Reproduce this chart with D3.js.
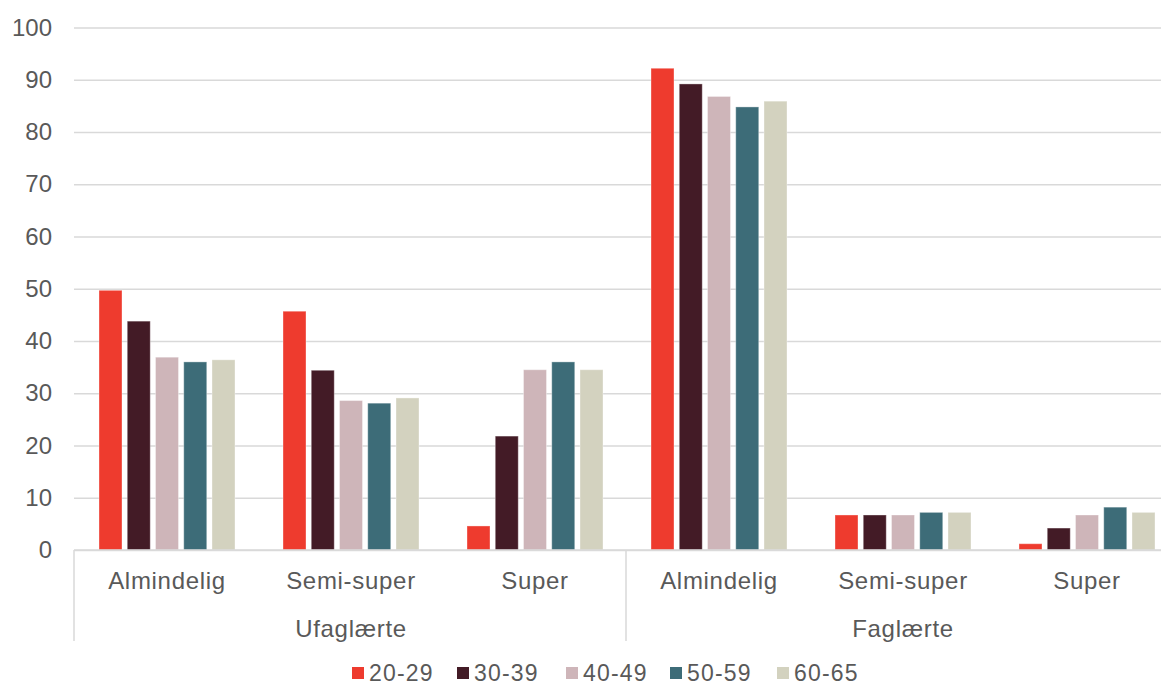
<!DOCTYPE html>
<html>
<head>
<meta charset="utf-8">
<script src="https://cdn.jsdelivr.net/npm/d3@7"></script>
<style>
  html, body { margin: 0; padding: 0; background: #fff; }
  svg { display: block; font-family: "Liberation Sans", Arial, sans-serif; }
</style>
</head>
<body>
<svg id="chart" width="1161" height="686"></svg>
<script>
// Education groups and job-type categories within each group
const groups = ["Ufaglærte", "Faglærte"];
const jobTypes = ["Almindelig", "Semi-super", "Super"];

// Age bands (series)
const ageBands = ["20-29", "30-39", "40-49", "50-59", "60-65"];
const ageColors = ["#EE3B2E", "#431B26", "#CEB5B9", "#3D6C78", "#D3D2BF"];

// Values per age band, in order: Ufaglærte (Almindelig, Semi-super, Super), Faglærte (Almindelig, Semi-super, Super)
const age20_29 = [49.7, 45.7, 4.6, 92.2, 6.7, 1.2];
const age30_39 = [43.8, 34.4, 21.8, 89.2, 6.7, 4.2];
const age40_49 = [36.9, 28.6, 34.5, 86.8, 6.7, 6.7];
const age50_59 = [36.0, 28.1, 36.0, 84.8, 7.2, 8.2];
const age60_65 = [36.4, 29.1, 34.5, 85.9, 7.2, 7.2];

const yTicks = [0, 10, 20, 30, 40, 50, 60, 70, 80, 90, 100];

const seriesValues = [age20_29, age30_39, age40_49, age50_59, age60_65];

// Flattened category list (group + job type)
const cats = [];
groups.forEach(g => jobTypes.forEach(j => cats.push({ key: g + "|" + j, group: g, job: j })));

const svg = d3.select("#chart");
const plotLeft = 75, bandW = 184;
const plotTop = 27.5, plotBottom = 550;
const textColor = "#595959";
const gridColor = "#d9d9d9";

const x0 = d3.scaleBand()
  .domain(cats.map(c => c.key))
  .range([plotLeft, plotLeft + bandW * cats.length])
  .paddingInner(0).paddingOuter(0);

const x1 = d3.scaleBand()
  .domain(ageBands)
  .range([24, bandW - 24])
  .paddingInner(0.186).paddingOuter(0);

const y = d3.scaleLinear().domain([0, 100]).range([plotBottom, plotTop]);

// Gridlines and y tick labels
const yAxis = d3.axisLeft(y)
  .tickValues(yTicks)
  .tickSize(-(1161 - plotLeft + 1))
  .tickPadding(22)
  .tickFormat(d3.format("d"));

const gAxis = svg.append("g")
  .attr("transform", `translate(${plotLeft - 1},0)`)
  .call(yAxis);
gAxis.select(".domain").remove();
gAxis.selectAll(".tick line").attr("stroke", gridColor).attr("stroke-width", 1.5);
gAxis.selectAll(".tick text")
  .attr("fill", textColor)
  .attr("font-size", 24)
  .attr("font-family", "Liberation Sans, Arial, sans-serif");

// Bars
const catG = svg.append("g").selectAll("g")
  .data(cats)
  .join("g")
  .attr("transform", d => `translate(${x0(d.key)},0)`);

catG.selectAll("rect")
  .data((d, i) => ageBands.map((a, s) => ({ age: a, s, v: seriesValues[s][i] })))
  .join("rect")
  .attr("x", d => x1(d.age))
  .attr("width", x1.bandwidth())
  .attr("y", d => y(d.v))
  .attr("height", d => y(0) - y(d.v))
  .attr("fill", d => ageColors[d.s])
  .attr("stroke", "#ffffff")
  .attr("stroke-opacity", 0.35)
  .attr("stroke-width", 1);

// Baseline redrawn over bars
svg.append("line")
  .attr("x1", plotLeft - 1).attr("x2", 1161)
  .attr("y1", y(0)).attr("y2", y(0))
  .attr("stroke", gridColor).attr("stroke-width", 1.5);

// Category labels
svg.append("g").selectAll("text")
  .data(cats)
  .join("text")
  .attr("x", d => x0(d.key) + bandW / 2)
  .attr("y", 589)
  .attr("text-anchor", "middle")
  .attr("font-size", 24)
  .attr("letter-spacing", 0.7)
  .attr("fill", textColor)
  .text(d => d.job);

// Group separators and group labels
const groupSpan = bandW * jobTypes.length;
const sepXs = d3.range(groups.length + 1).map(i => plotLeft - 1 + i * groupSpan);
svg.append("g").selectAll("line")
  .data(sepXs)
  .join("line")
  .attr("x1", d => d).attr("x2", d => d)
  .attr("y1", y(0)).attr("y2", 641)
  .attr("stroke", gridColor).attr("stroke-width", 1.5);

svg.append("g").selectAll("text")
  .data(groups)
  .join("text")
  .attr("x", (d, i) => plotLeft + i * groupSpan + groupSpan / 2)
  .attr("y", 637)
  .attr("text-anchor", "middle")
  .attr("font-size", 24)
  .attr("letter-spacing", 0.7)
  .attr("fill", textColor)
  .text(d => d);

// Legend
const legendX = [352, 457, 566, 670, 777];
const legend = svg.append("g").selectAll("g")
  .data(ageBands)
  .join("g")
  .attr("transform", (d, i) => `translate(${legendX[i]},0)`);
legend.append("rect")
  .attr("x", 0).attr("y", 667)
  .attr("width", 12).attr("height", 12)
  .attr("fill", (d, i) => ageColors[i]);
legend.append("text")
  .attr("x", 17).attr("y", 681)
  .attr("font-size", 23)
  .attr("letter-spacing", 1.2)
  .attr("fill", textColor)
  .text(d => d);
</script>
</body>
</html>
